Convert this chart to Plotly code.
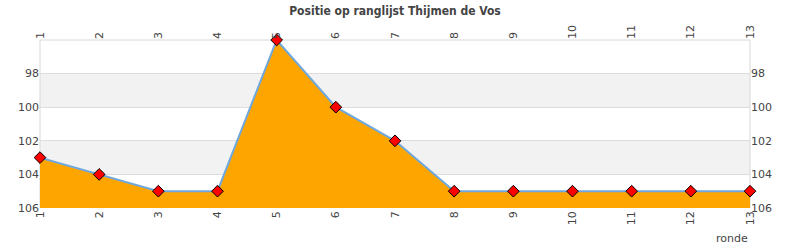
import plotly.graph_objects as go

rondes = list(range(1, 13 + 1))
positie = [103, 104, 105, 105, 96, 100, 102, 105, 105, 105, 105, 105, 105]
bodem = [106] * len(rondes)
y_ticks = [98, 100, 102, 104, 106]
bands = [(98, 100), (102, 104)]

font = "DejaVu Sans"
fig = go.Figure()
fig.add_trace(go.Scatter(x=rondes, y=bodem, mode="lines", line=dict(width=0),
                         hoverinfo="skip", showlegend=False))
fig.add_trace(go.Scatter(x=rondes, y=positie, mode="lines+markers", fill="tonexty",
                         fillcolor="#FFA500", line=dict(color="#6FA8DC", width=2),
                         marker=dict(symbol="diamond", size=9, color="#FF0000",
                                     line=dict(color="#000000", width=1)),
                         cliponaxis=False, showlegend=False))
fig.add_trace(go.Scatter(x=rondes, y=positie, xaxis="x2", yaxis="y2", mode="markers",
                         marker=dict(opacity=0), hoverinfo="skip", showlegend=False))

for lo, hi in bands:
    fig.add_shape(type="rect", xref="paper", yref="y", x0=0, x1=1, y0=lo, y1=hi,
                  fillcolor="#F2F2F2", line=dict(width=0), layer="below")

axis_common = dict(tickfont=dict(family=font, size=11, color="#444"), showline=False, zeroline=False)
fig.update_layout(
    width=790, height=250,
    margin=dict(l=40, r=40, t=40, b=42),
    plot_bgcolor="white", paper_bgcolor="white",
    title=dict(text="Positie op ranglijst Thijmen de Vos", x=0.5, xanchor="center",
               y=0.955, yanchor="middle",
               font=dict(family="DejaVu Sans Condensed", size=12, color="#444", weight="bold")),
    xaxis=dict(range=[1, 13], tickvals=rondes, tickangle=-90, showgrid=False,
               ticks="", **axis_common),
    xaxis2=dict(range=[1, 13], tickvals=rondes, tickangle=-90, overlaying="x", side="top",
                showgrid=False, ticks="", **axis_common),
    yaxis=dict(range=[106, 96], tickvals=y_ticks, showgrid=True, gridcolor="#DDDDDD",
               ticks="", **axis_common),
    yaxis2=dict(range=[106, 96], tickvals=y_ticks, overlaying="y", side="right",
                showgrid=False, ticks="", **axis_common),
    annotations=[dict(text="ronde", xref="paper", yref="paper", x=1, y=0, xanchor="right",
                      yanchor="top", yshift=-22, showarrow=False,
                      font=dict(family=font, size=11, color="#444"))],
)
# plot border (left, top, right)
fig.add_shape(type="line", xref="paper", yref="paper", x0=0, x1=0, y0=0, y1=1,
              line=dict(color="#D8D8D8", width=1), layer="below")
fig.add_shape(type="line", xref="paper", yref="paper", x0=1, x1=1, y0=0, y1=1,
              line=dict(color="#D8D8D8", width=1), layer="below")
fig.add_shape(type="line", xref="paper", yref="paper", x0=0, x1=1, y0=1, y1=1,
              line=dict(color="#D8D8D8", width=1), layer="below")

fig.write_html("out.html")
